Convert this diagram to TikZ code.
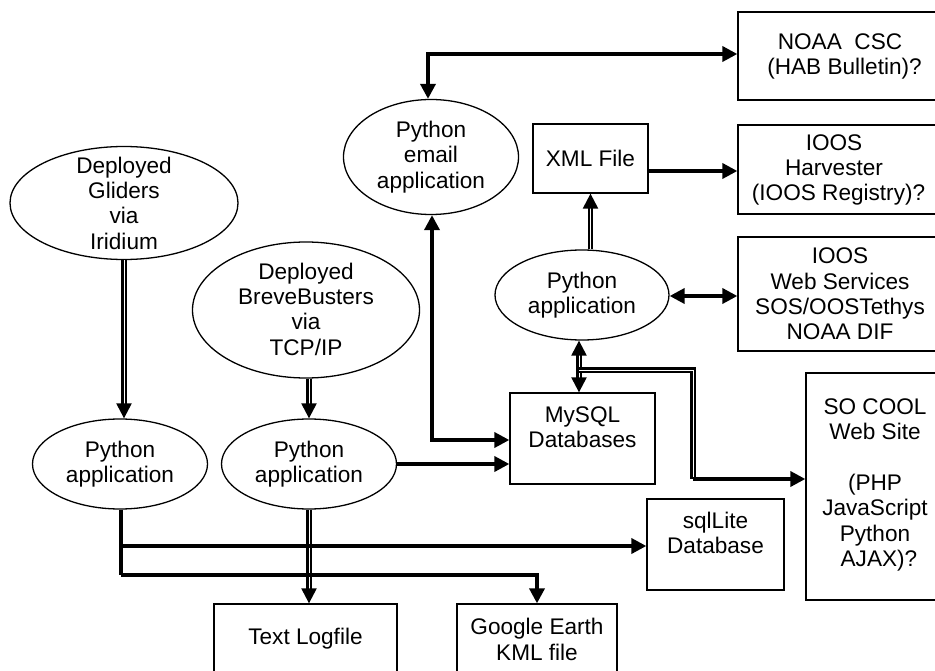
\documentclass[tikz,border=0pt]{standalone}
\usepackage{fontspec}
\setmainfont{Liberation Sans}
\usetikzlibrary{shapes.geometric,arrows.meta}
\begin{document}
\begin{tikzpicture}[x=1pt,y=-1pt,
  txt/.style={align=center,font=\fontsize{22.6}{25.3}\selectfont,inner sep=0pt},
  ell/.style={draw,ellipse,line width=1.3pt,inner sep=0pt},
  boxn/.style={draw,rectangle,line width=1.3pt,inner sep=0pt},
  con/.style={line width=3.6pt,-{Triangle[length=15pt,width=15pt]}},
  bicon/.style={line width=3.6pt,{Triangle[length=15pt,width=15pt]}-{Triangle[length=15pt,width=15pt]}},
  plain/.style={line width=3.6pt},
  dcon/.style={double,double distance=0.7pt,line width=2.3pt,-{Triangle[length=15pt,width=15pt]}},
  dbicon/.style={double,double distance=0.7pt,line width=2.3pt,{Triangle[length=15pt,width=15pt]}-{Triangle[length=15pt,width=15pt]}},
  dplain/.style={double,double distance=0.7pt,line width=2.3pt}
]
\useasboundingbox (0,0) rectangle (935,671);
\clip (0,0) rectangle (935,671);

% ellipses
\node[ell,minimum width=228pt,minimum height=113pt] (glid) at (124,203) {};
\node[txt] at (124,203) {Deployed\\Gliders\\via\\Iridium};
\node[ell,minimum width=227pt,minimum height=136pt] (breve) at (306,310) {};
\node[txt] at (306,309) {Deployed\\BreveBusters\\via\\TCP/IP};
\node[ell,minimum width=175pt,minimum height=90pt] (app1) at (120,464) {};
\node[txt] at (120,464) {Python\\application};
\node[ell,minimum width=175pt,minimum height=90pt] (app2) at (309,464) {};
\node[txt] at (309,464) {Python\\application};
\node[ell,minimum width=175pt,minimum height=115pt] (email) at (431,157) {};
\node[txt] at (431,157) {Python\\email\\application};
\node[ell,minimum width=174pt,minimum height=90pt] (app3) at (582,295) {};
\node[txt] at (582,295) {Python\\application};

% boxes
\node[boxn,minimum width=115pt,minimum height=69pt] (xml) at (590.5,158.5) {};
\node[txt] at (590.5,158.5) {XML File};
\node[boxn,minimum width=145pt,minimum height=91pt] (mysql) at (582.5,438.5) {};
\node[txt] at (582.5,427) {MySQL\\Databases};
\node[boxn,minimum width=137pt,minimum height=91pt] (sqlite) at (715.5,544.5) {};
\node[txt] at (715.5,533) {sqlLite\\Database};
\node[boxn,minimum width=160pt,minimum height=86pt] (google) at (537,647) {};
\node[txt] at (537,639.5) {Google Earth\\KML file};
\node[boxn,minimum width=183pt,minimum height=86pt] (textlog) at (305.5,647) {};
\node[txt] at (305.5,639) {Text Logfile};
\node[boxn,minimum width=154pt,minimum height=227pt] (socool) at (883,486.5) {};
\node[txt] at (875,485) {SO COOL\\Web Site\\[25.3pt](PHP\\JavaScript\\Python\\\hspace{0.35em}AJAX)?};
\node[boxn,minimum width=222pt,minimum height=88pt] (noaa) at (849,56) {};
\node[txt] at (840,56.5) {NOAA\ \ CSC\\\hspace{0.4em}(HAB Bulletin)?};
\node[boxn,minimum width=222pt,minimum height=89pt] (harv) at (849,169.5) {};
\node[txt] at (834,170) {IOOS\\Harvester\\\hspace{0.4em}(IOOS Registry)?};
\node[boxn,minimum width=222pt,minimum height=114pt] (ws) at (849,294) {};
\node[txt] at (840,294) {IOOS\\Web Services\\SOS/OOSTethys\\NOAA DIF};

% junction coordinates
\coordinate (eTop) at (428,54);
\coordinate (eBot) at (432,440);
\coordinate (j1) at (579,370);
\coordinate (j2) at (693,370);
\coordinate (j3) at (693,479);
\coordinate (a1a) at (121,546);
\coordinate (a1b) at (121,575);
\coordinate (a1c) at (537,575);

% connectors
\draw[dcon] (glid.south) -- (app1.north -| glid.south);
\draw[dcon] (breve.south -| app2.north) -- (app2.north);
\draw[dcon] (app2.south) -- (textlog.north -| app2.south);
\draw[con] (app2.east) -- (app2.east -| mysql.west);
\draw[bicon] (email.south -| eBot) -- (eBot) -- (eBot -| mysql.west);
\draw[bicon] (email.north -| eTop) -- (eTop) -- (eTop -| noaa.west);
\draw[con] (xml.east |- 0,171) -- (harv.west |- 0,171);
\draw[dcon] (app3.north -| xml.south) -- (xml.south);
\draw[bicon] (app3.east |- 0,296) -- (ws.west |- 0,296);
\draw[dbicon] (app3.south -| j1) -- (mysql.north -| j1);
\draw[dplain] (j1) -- (j2) -- (j3);
\draw[con] (j3) -- (j3 -| socool.west);
\draw[plain] (app1.south -| a1a) -- (a1b);
\draw[con] (a1a) -- (a1a -| sqlite.west);
\draw[con] (a1b) -- (a1c) -- (google.north -| a1c);
\end{tikzpicture}
\end{document}
